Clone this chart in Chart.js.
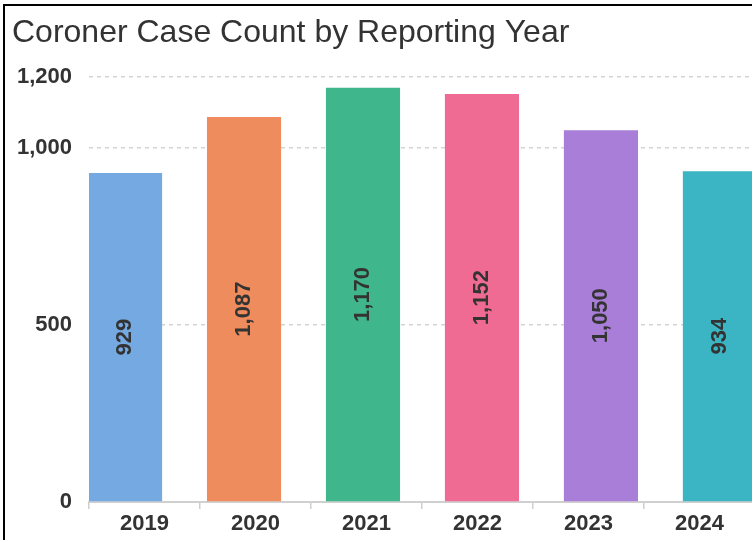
<!DOCTYPE html>
<html>
<head>
<meta charset="utf-8">
<script src="https://cdn.jsdelivr.net/npm/chart.js@4"></script>
<style>
  html, body { margin: 0; padding: 0; background: #fff; overflow: hidden; width: 752px; height: 540px; }
  #frame { position: absolute; left: 3px; top: 4px; border-left: 2px solid #000; border-top: 2px solid #000; width: 760px; height: 540px; }
  canvas { display: block; }
</style>
</head>
<body>
<div id="frame"><canvas id="c" width="750" height="534"></canvas></div>
<script>
// ---- data ----
const years = ['2019', '2020', '2021', '2022', '2023', '2024'];
const caseCounts = [929, 1087, 1170, 1152, 1050, 934];
const yTickValues = [0, 500, 1000, 1200];
const chartTitle = 'Coroner Case Count by Reporting Year';

// ---- styles ----
const palette = ['#75A9E1', '#EF8C5D', '#3FB68C', '#F06B93', '#A97ED8', '#3BB5C3'];
const FONT = '"Liberation Sans", Arial, sans-serif';
const textColor = '#333333';

const fmt = v => Number(v).toLocaleString('en-US');

const barLabels = {
  id: 'barLabels',
  afterDatasetsDraw(chart) {
    const ctx = chart.ctx;
    chart.data.datasets.forEach((ds, di) => {
      const meta = chart.getDatasetMeta(di);
      meta.data.forEach((el, i) => {
        const p = el.getProps(['x', 'y', 'base'], true);
        const cy = (p.y + p.base) / 2;
        ctx.save();
        ctx.translate(p.x, cy);
        ctx.rotate(-Math.PI / 2);
        ctx.font = 'bold 22px ' + FONT;
        ctx.fillStyle = textColor;
        ctx.textAlign = 'center';
        ctx.textBaseline = 'middle';
        ctx.fillText(fmt(ds.data[i]), 0, 0);
        ctx.restore();
      });
    });
  }
};

new Chart(document.getElementById('c'), {
  type: 'bar',
  data: {
    labels: years,
    datasets: [{
      data: caseCounts,
      xAxisID: 'xb',
      backgroundColor: palette,
      borderWidth: 0,
      categoryPercentage: 1,
      barPercentage: 0.623
    }]
  },
  options: {
    responsive: false,
    devicePixelRatio: 1,
    animation: false,
    layout: { padding: { left: 7, top: 0, right: 0, bottom: 0 } },
    plugins: {
      legend: { display: false },
      tooltip: { enabled: false },
      title: {
        display: true,
        text: chartTitle,
        align: 'start',
        color: textColor,
        font: { family: FONT, size: 32, weight: 'normal' },
        padding: { top: 8, bottom: 24.6 }
      }
    },
    scales: {
      x: {
        type: 'category',
        labels: years,
        offset: true,
        position: 'bottom',
        grid: { offset: true, drawOnChartArea: false, drawTicks: true, tickLength: 7, color: '#cfcfcf', lineWidth: 1.5 },
        border: { display: true, color: '#d0d0d0', width: 2 },
        ticks: { color: textColor, font: { family: FONT, size: 22, weight: 'bold' }, padding: 2, maxRotation: 0 },
        afterFit(scale) { scale.height = 38; }
      },
      xb: {
        type: 'linear',
        display: false,
        min: 2018.697,
        max: 2024.295,
        offset: false
      },
      y: {
        min: 0,
        max: 1200,
        afterBuildTicks(scale) { scale.ticks = yTickValues.map(v => ({ value: v })); },
        afterFit(scale) { scale.width = 77; },
        grid: {
          drawTicks: false,
          color: ctx => (ctx.tick && ctx.tick.value === 0) ? 'rgba(0,0,0,0)' : '#d4d4d4',
          lineWidth: 1.5
        },
        border: { display: false, dash: [4, 4] },
        ticks: {
          color: textColor,
          padding: 17,
          font: { family: FONT, size: 22, weight: 'bold' },
          callback: v => fmt(v)
        }
      }
    }
  },
  plugins: [barLabels]
});
</script>
</body>
</html>
